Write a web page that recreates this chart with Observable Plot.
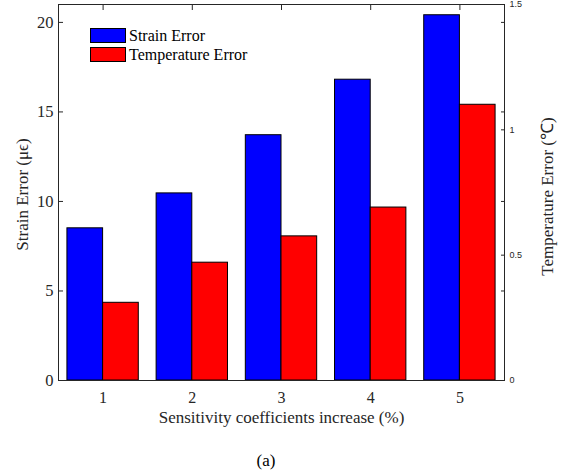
<!DOCTYPE html>
<html><head><meta charset="utf-8">
<script src="https://cdn.jsdelivr.net/npm/d3@7"></script>
<script src="https://cdn.jsdelivr.net/npm/@observablehq/plot@0.6"></script>
<style>
body{margin:0;background:#fff;}
#wrap{position:relative;width:566px;height:474px;font-family:"Liberation Serif","Times New Roman",serif;color:#262626;}
#wrap svg{position:absolute;left:0;top:0;}
.legend{position:absolute;left:90px;top:26px;font-size:16px;color:#000;font-family:"Liberation Serif",serif;}
.row{display:flex;align-items:center;height:19px;}
.sw{width:34px;height:13px;border:1px solid #000;margin-right:3px;}
#cap{position:absolute;top:451px;left:0;width:532px;text-align:center;font-size:17px;line-height:20px;color:#000;font-family:"Liberation Serif",serif;}
</style></head><body><div id="wrap"></div>
<script>
const categories = [1, 2, 3, 4, 5];
const strainError = [8.5, 10.45, 13.7, 16.8, 20.4];
const temperatureError = [0.31, 0.47, 0.575, 0.69, 1.1];
const leftTicks = [0, 5, 10, 15, 20];
const rightTicks = [0, 0.5, 1, 1.5];
const seriesNames = ["Strain Error", "Temperature Error"];
const seriesColors = ["#0000ff", "#ff0000"];
const xLabel = "Sensitivity coefficients increase (%)";
const yLabel = "Strain Error (μϵ)";
const y2Label = "Temperature Error (℃)";
const caption = "(a)";

const yMax = 21, y2Max = 1.5, k = yMax / y2Max;
const rows = categories.map((c, i) => ({c, s: strainError[i], t: temperatureError[i]}));
const ink = "#262626";
const serif = "'Liberation Serif', 'Times New Roman', serif";
const sans = "'Liberation Sans', Arial, sans-serif";

const chart = Plot.plot({
  width: 566, height: 440,
  marginLeft: 58, marginRight: 62, marginTop: 4, marginBottom: 60,
  style: {fontFamily: serif, fontSize: "16px", color: ink, background: "transparent"},
  x: {type: "linear", domain: [0.5, 5.5], axis: null},
  y: {domain: [0, yMax], axis: null},
  marks: [
    Plot.rectY(rows, {x1: d => d.c - 0.4, x2: d => d.c, y: "s", fill: seriesColors[0], stroke: "#000", strokeWidth: 1}),
    Plot.rectY(rows, {x1: d => d.c, x2: d => d.c + 0.4, y: d => d.t * k, fill: seriesColors[1], stroke: "#000", strokeWidth: 1}),
    Plot.frame({stroke: ink}),
    Plot.axisY(leftTicks, {anchor: "left", tickSize: -5, tickPadding: 10, stroke: ink, fill: ink, fontSize: 16.5, fontFamily: serif, label: null}),
    Plot.axisY(leftTicks.filter(d => d > 0), {anchor: "right", tickSize: -4, stroke: ink, fill: "none", label: null}),
    Plot.axisY(rightTicks.map(d => d * k), {anchor: "right", tickSize: -4, tickPadding: 9, tickFormat: d => String(d / k), stroke: ink, fill: ink, fontSize: 9, fontFamily: sans, label: null}),
    Plot.axisX(categories, {anchor: "top", tickSize: -5, stroke: ink, fill: "none", label: null}),
    Plot.axisX(categories, {anchor: "bottom", tickSize: 0, tickPadding: 11, fill: ink, fontSize: 16, fontFamily: serif, label: null}),
    Plot.text([xLabel], {frameAnchor: "bottom", dy: 42, text: d => d, textAnchor: "middle", fontSize: 17, fontFamily: serif, fill: ink}),
    Plot.text([yLabel], {frameAnchor: "left", dx: -36, dy: 2, rotate: -90, textAnchor: "middle", text: d => d, fontSize: 17, fontFamily: serif, fill: ink}),
    Plot.text([y2Label], {frameAnchor: "right", dx: 43, dy: 4, rotate: -90, textAnchor: "middle", text: d => d, fontSize: 17, fontFamily: serif, fill: ink})
  ]
});
const wrap = document.getElementById("wrap");
wrap.appendChild(chart);
const leg = document.createElement("div");
leg.className = "legend";
seriesNames.forEach((n, i) => {
  const r = document.createElement("div"); r.className = "row";
  const sw = document.createElement("div"); sw.className = "sw"; sw.style.background = seriesColors[i];
  const t = document.createElement("span"); t.textContent = n;
  r.appendChild(sw); r.appendChild(t); leg.appendChild(r);
});
wrap.appendChild(leg);
const cap = document.createElement("div"); cap.id = "cap"; cap.textContent = caption;
wrap.appendChild(cap);
</script></body></html>
